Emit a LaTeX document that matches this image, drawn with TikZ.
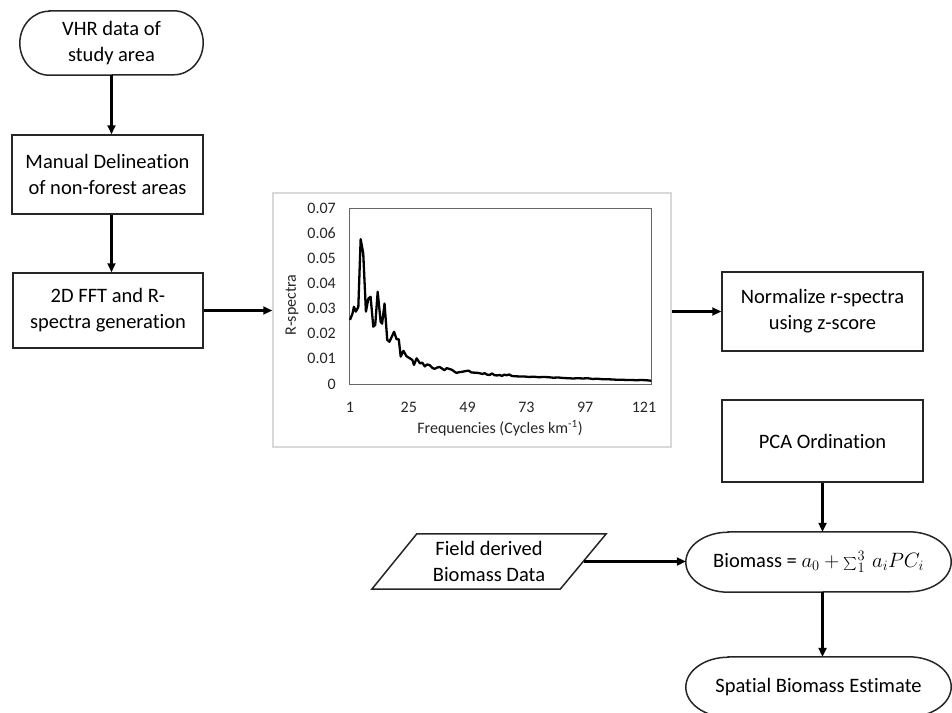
\documentclass[tikz,border=0pt]{standalone}
\usepackage{fontspec}
\setmainfont{Carlito}[Ligatures=NoCommon]
\usetikzlibrary{arrows.meta}
\newcommand\termpath[3]{%
  \draw[boxline] ([xshift=#2]#1.north west) -- ([xshift=-#2]#1.north east)
    arc[start angle=90, end angle=-90, x radius=#2, y radius=#3]
    -- ([xshift=#2]#1.south west)
    arc[start angle=270, end angle=90, x radius=#2, y radius=#3] -- cycle;}
\newcommand\bigsumsym{\mathop{\raisebox{-0.12em}{\scalebox{1.3}{$\sum$}}}\nolimits}
\begin{document}
\begin{tikzpicture}[x=1pt,y=-1pt,
  boxline/.style={draw=black!85, line width=1.5pt},
  box/.style={boxline, align=center, font=\fontsize{20.5}{26}\selectfont, inner sep=0pt},
  ghost/.style={align=center, font=\fontsize{20.5}{26}\selectfont, inner sep=0pt},
  arr/.style={draw=black, line width=2.1pt, -{Triangle[length=9pt,width=8pt]}},
  ticklab/.style={font=\fontsize{16}{19}\selectfont, text=black!85, inner sep=0pt}]
\useasboundingbox (0,0) rectangle (952,712);

% flow nodes
\node[ghost, minimum width=183pt, minimum height=64pt] (vhr) at (111.5,43) {VHR data of\\study area};
\termpath{vhr}{29.5pt}{32pt}
\node[box, minimum width=191pt, minimum height=79pt] (man) at (107.5,174.5) {Manual Delineation\\of non-forest areas};
\node[box, minimum width=190pt, minimum height=75pt] (fft) at (108,310.5) {2D FFT and R-\\spectra generation};
\node[box, minimum width=201pt, minimum height=79pt] (norm) at (822.5,311.5) {Normalize r-spectra\\using z-score};
\node[box, minimum width=201pt, minimum height=82pt] (pca) at (822.5,441) {PCA Ordination};
\node[ghost, minimum width=265pt, minimum height=60pt] (bio) at (818.5,562) {Biomass = {\fontsize{22}{26}\selectfont$a_0 + \bigsumsym_1^3\, a_i PC_i$}};
\termpath{bio}{42.5pt}{30pt}
\node[ghost, minimum width=265pt, minimum height=60pt] (spat) at (818.5,687) {Spatial Biomass Estimate};
\termpath{spat}{42.5pt}{30pt}
\node[ghost, minimum width=234pt, minimum height=55pt] (field) at (489,561.5) {Field derived\\Biomass Data};
\draw[boxline] ([xshift=45pt]field.north west) -- (field.north east) -- ([xshift=-46pt]field.south east) -- (field.south west) -- cycle;
\coordinate (fieldR) at ([xshift=-22.5pt]field.east);

% chart
\node[draw=black!15, line width=1.5pt, minimum width=398pt, minimum height=254pt, inner sep=0pt] (chart) at (472,320) {};
\draw[draw=black!60, line width=0.8pt] (349,208) rectangle (651,384);
\begin{scope}[shift={(350pt,-384pt)}, x=2.45pt, y=2514pt]
\draw[line width=2.3pt, line join=round] plot coordinates {
(0,0.0255) (1,0.028) (1.6,0.0307) (2.4,0.0288) (3.4,0.0307) (4.35,0.0576) (5.4,0.052) (6.5,0.0288) (7.5,0.034) (8.4,0.0347) (9.5,0.0228) (10.3,0.0235) (11.3,0.0367) (12.5,0.0248) (13.1,0.024) (14.1,0.032) (15.2,0.0175) (16.1,0.0168) (18,0.0208) (19,0.0178) (19.9,0.0178) (20.7,0.0109) (21.8,0.0132) (23.1,0.011) (24.5,0.0102) (25.5,0.0095) (26.1,0.0076) (27.2,0.0102) (28.6,0.0082) (29.5,0.0085) (30.5,0.007) (31.5,0.0078) (32.5,0.0075) (33.5,0.0065) (34.5,0.006) (35.5,0.0065) (36.5,0.0068) (37.5,0.0062) (38.5,0.0055) (39.5,0.0063) (40.5,0.006) (41.5,0.0057) (42.5,0.005) (43.5,0.0044) (44.5,0.0047) (45.5,0.0048) (46.5,0.005) (47.5,0.0052) (48.5,0.0053) (49.5,0.0046) (51,0.0045) (52.5,0.0044) (54,0.004) (55,0.0043) (56,0.0037) (57,0.0036) (58,0.0042) (59,0.0035) (60,0.0034) (61,0.0036) (62,0.0032) (63,0.0037) (64,0.0035) (65,0.0038) (66,0.0032) (67,0.0031) (69,0.003) (71,0.003) (73,0.0028) (75,0.0029) (77,0.0027) (79,0.0028) (81,0.0027) (83,0.0025) (85,0.0026) (87,0.0024) (89,0.0023) (91,0.0022) (93,0.0023) (95,0.0022) (97,0.0023) (99,0.002) (101,0.0021) (103,0.0019) (105,0.0019) (107,0.0018) (109,0.0017) (111,0.0017) (113,0.0016) (115,0.0016) (117,0.0015) (119,0.0016) (121,0.0015) (123,0.0013)};
\end{scope}
\foreach \v/\lab in {0/0,1/0.01,2/0.02,3/0.03,4/0.04,5/0.05,6/0.06,7/0.07}
  \node[ticklab, anchor=east] (yt\v) at (336,{384-25.14*\v}) {\lab};
\foreach \f in {1,25,49,73,97,121}
  \node[ticklab] (xt\f) at ({350+(\f-1)*2.45},407) {\f};
\node[ticklab, rotate=90] (ylab) at (292,305) {R-spectra};
\node[ticklab] (xlab) at (500,428) {Frequencies (Cycles km\textsuperscript{-1})};

% connectors
\draw[arr] (vhr.south) -- (vhr.south |- man.north);
\draw[arr] (vhr.south |- man.south) -- (vhr.south |- fft.north);
\draw[arr] (fft.east) -- (fft.east -| chart.west);
\draw[arr] (chart.east |- norm.west) -- (norm.west);
\draw[arr] (pca.south) -- (pca.south |- bio.north);
\draw[arr] (fieldR) -- (fieldR -| bio.west);
\draw[arr] (pca.south |- bio.south) -- (pca.south |- spat.north);
\end{tikzpicture}
\end{document}
